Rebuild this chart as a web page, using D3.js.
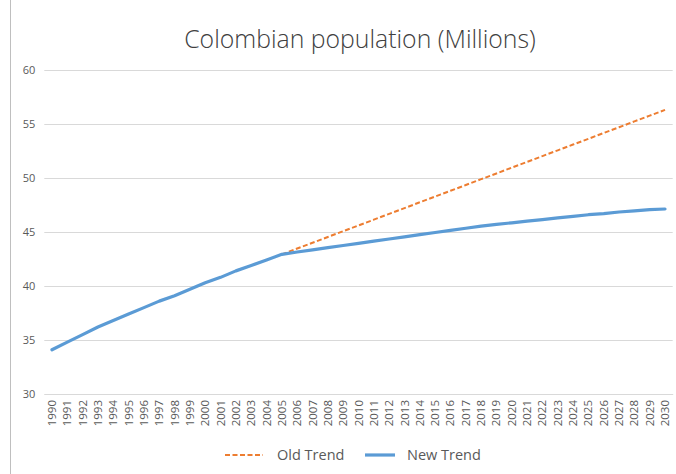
<!DOCTYPE html>
<html>
<head>
<meta charset="utf-8">
<script src="https://cdn.jsdelivr.net/npm/d3@7"></script>
<style>
  html, body { margin: 0; padding: 0; background: #fff; }
  svg { display: block; }
  text { font-family: "Open Sans", "Noto Sans", sans-serif; fill: #595959; }
</style>
</head>
<body>
<svg id="chart" width="676" height="474"></svg>
<script>
// Years on the category axis
const years = [
  "1990","1991","1992","1993","1994","1995","1996","1997","1998","1999",
  "2000","2001","2002","2003","2004","2005","2006","2007","2008","2009",
  "2010","2011","2012","2013","2014","2015","2016","2017","2018","2019",
  "2020","2021","2022","2023","2024","2025","2026","2027","2028","2029","2030"
];

// Revised projection, millions
const newTrend = [
  34.1, 34.8, 35.5, 36.2, 36.8, 37.4, 38.0, 38.6, 39.1, 39.7,
  40.3, 40.8, 41.4, 41.9, 42.4, 42.93, 43.15, 43.35, 43.55, 43.75,
  43.95, 44.15, 44.35, 44.55, 44.75, 44.95, 45.15, 45.35, 45.55, 45.7,
  45.85, 46.0, 46.15, 46.3, 46.45, 46.6, 46.7, 46.85, 46.95, 47.07, 47.13
];

// Earlier projection, millions (from 2005 onwards)
const oldTrendYears = [
  "2005","2006","2007","2008","2009","2010","2011","2012","2013","2014",
  "2015","2016","2017","2018","2019","2020","2021","2022","2023","2024",
  "2025","2026","2027","2028","2029","2030"
];
const oldTrend = [
  42.93, 43.47, 44.00, 44.54, 45.07, 45.61, 46.14, 46.68, 47.21, 47.75,
  48.28, 48.82, 49.35, 49.89, 50.42, 50.96, 51.49, 52.03, 52.56, 53.10,
  53.63, 54.17, 54.70, 55.24, 55.77, 56.31
];

const yTicks = [30, 35, 40, 45, 50, 55, 60];
const title = "Colombian population (Millions)";
const seriesNames = ["Old Trend", "New Trend"];

const svg = d3.select("#chart");
const W = 676, H = 474;
const plot = { left: 44.3, right: 672.7, top: 70, bottom: 394 };

// chart frame edge
svg.append("line")
  .attr("x1", 10.5).attr("x2", 10.5).attr("y1", 0).attr("y2", H)
  .attr("stroke", "#bfbfbf").attr("stroke-width", 1);

const x = d3.scaleBand().domain(years).range([plot.left, plot.right]).padding(0);
const xc = d => x(d) + x.bandwidth() / 2;
const y = d3.scaleLinear().domain([30, 60]).range([plot.bottom, plot.top]);

// gridlines
const yAxis = d3.axisLeft(y).tickValues(yTicks).tickSize(-(plot.right - plot.left)).tickPadding(9);
const gy = svg.append("g").attr("transform", `translate(${plot.left},0)`).call(yAxis);
gy.select(".domain").remove();
gy.selectAll(".tick line").attr("stroke", "#d9d9d9").attr("stroke-width", 1);
gy.selectAll(".tick text").attr("font-size", 11).style("fill", "#595959");

// category axis with vertical labels
const xAxis = d3.axisBottom(x).tickSize(0).tickPadding(0);
const gx = svg.append("g").attr("transform", `translate(0,${plot.bottom})`).call(xAxis);
gx.select(".domain").attr("stroke", "#d9d9d9");
gx.selectAll(".tick text")
  .attr("font-size", 11.5)
  .style("fill", "#595959")
  .attr("text-anchor", "end")
  .attr("transform", "rotate(-90)")
  .attr("x", -6)
  .attr("y", 0)
  .attr("dy", "0.35em");

// series lines
const line = d3.line().x(d => xc(d[0])).y(d => y(d[1]));

svg.append("path")
  .datum(d3.zip(oldTrendYears, oldTrend))
  .attr("d", line)
  .attr("fill", "none")
  .attr("stroke", "#ed7d31")
  .attr("stroke-width", 2)
  .attr("stroke-dasharray", "5,2.5");

svg.append("path")
  .datum(d3.zip(years, newTrend))
  .attr("d", line)
  .attr("fill", "none")
  .attr("stroke", "#5b9bd5")
  .attr("stroke-width", 3.2)
  .attr("stroke-linejoin", "round")
  .attr("stroke-linecap", "round");

// title
svg.append("text")
  .attr("x", 360).attr("y", 48)
  .attr("text-anchor", "middle")
  .attr("font-size", 24.8)
  .attr("font-weight", 300)
  .style("fill", "#404040")
  .text(title);

// legend
const lg = svg.append("g");
lg.append("line").attr("x1", 225).attr("x2", 263).attr("y1", 455).attr("y2", 455)
  .attr("stroke", "#ed7d31").attr("stroke-width", 2).attr("stroke-dasharray", "5,2.5");
lg.append("text").attr("x", 277).attr("y", 460).attr("font-size", 14.5).text(seriesNames[0]);
lg.append("line").attr("x1", 365).attr("x2", 395).attr("y1", 455).attr("y2", 455)
  .attr("stroke", "#5b9bd5").attr("stroke-width", 3.2);
lg.append("text").attr("x", 407).attr("y", 460).attr("font-size", 14.5).text(seriesNames[1]);
</script>
</body>
</html>
